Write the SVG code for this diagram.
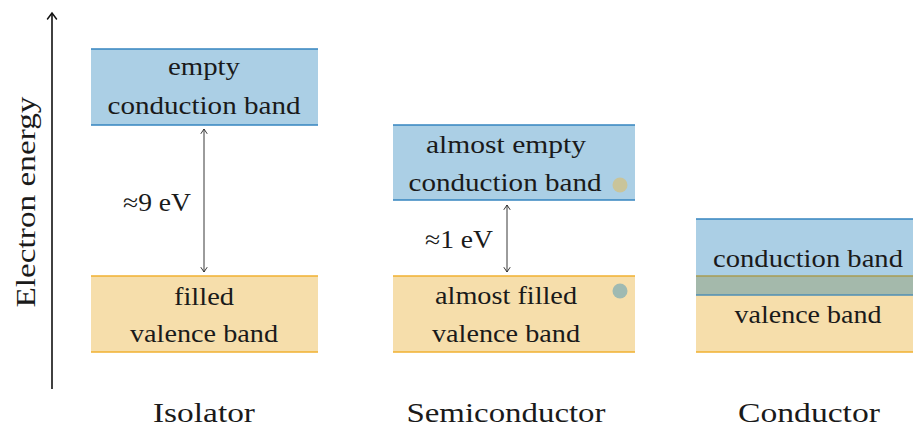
<svg xmlns="http://www.w3.org/2000/svg" width="913" height="428" viewBox="0 0 913 428" font-family="'Liberation Serif', 'DejaVu Serif', 'Noto Serif', Times, serif">
<defs>
<marker id="ah" viewBox="-6 -4 8 8" markerWidth="8" markerHeight="8" refX="0" refY="0" orient="auto-start-reverse" markerUnits="userSpaceOnUse">
<path d="M-4.5,-3 Q-1.5,-1 0,0 Q-1.5,1 -4.5,3" fill="none" stroke="#222" stroke-width="0.9" stroke-linecap="round"/>
</marker>
<marker id="ahbig" viewBox="-8 -6 10 12" markerWidth="10" markerHeight="12" refX="0" refY="0" orient="auto" markerUnits="userSpaceOnUse">
<path d="M-6,-4.5 Q-2,-1.5 0,0 Q-2,1.5 -6,4.5" fill="none" stroke="#111" stroke-width="1.5" stroke-linecap="round"/>
</marker>
</defs>
<style>
text{fill:#1a1a1a;text-anchor:middle}
.t{font-size:25px}
.lab{font-size:27px}
.cb{fill:#abcfe5}
.vb{fill:#f6deab}
.bl{stroke:#3585bf;stroke-width:1.3}
.ol{stroke:#f0b030;stroke-width:1.3}
.gap{stroke:#222;stroke-width:0.9;fill:none}
</style>
<rect width="913" height="428" fill="#fff"/>
<g id="axis">
<line x1="52" y1="389" x2="52" y2="13" stroke="#111" stroke-width="1.6" marker-end="url(#ahbig)"/>
<text class="lab" transform="translate(35,202) rotate(-90)" textLength="211" lengthAdjust="spacingAndGlyphs">Electron energy</text>
</g>
<g id="isolator">
<g id="iso-cond">
<rect class="cb" x="91" y="49" width="227" height="76"/>
<line class="bl" x1="91" y1="49" x2="318" y2="49"/>
<line class="bl" x1="91" y1="125" x2="318" y2="125"/>
<text class="t" x="204" y="75" textLength="72" lengthAdjust="spacingAndGlyphs">empty</text>
<text class="t" x="204" y="114" textLength="193" lengthAdjust="spacingAndGlyphs">conduction band</text>
</g>
<g id="iso-val">
<rect class="vb" x="91" y="276" width="227" height="76"/>
<line class="ol" x1="91" y1="276" x2="318" y2="276"/>
<line class="ol" x1="91" y1="352" x2="318" y2="352"/>
<text class="t" x="204" y="305" textLength="60" lengthAdjust="spacingAndGlyphs">filled</text>
<text class="t" x="204" y="342" textLength="148" lengthAdjust="spacingAndGlyphs">valence band</text>
</g>
<text class="lab" x="204" y="422" textLength="102" lengthAdjust="spacingAndGlyphs">Isolator</text>
</g>
<g id="semiconductor">
<g id="semi-cond">
<rect class="cb" x="393" y="125" width="242" height="75"/>
<line class="bl" x1="393" y1="125" x2="635" y2="125"/>
<line class="bl" x1="393" y1="200" x2="635" y2="200"/>
<text class="t" x="506" y="153" textLength="160" lengthAdjust="spacingAndGlyphs">almost empty</text>
<text class="t" x="505" y="191" textLength="193" lengthAdjust="spacingAndGlyphs">conduction band</text>
<circle cx="620" cy="185" r="7.5" fill="#c9c49a"/>
</g>
<g id="semi-val">
<rect class="vb" x="393" y="276" width="242" height="76"/>
<line class="ol" x1="393" y1="276" x2="635" y2="276"/>
<line class="ol" x1="393" y1="352" x2="635" y2="352"/>
<text class="t" x="506" y="304" textLength="142" lengthAdjust="spacingAndGlyphs">almost filled</text>
<text class="t" x="506" y="342" textLength="148" lengthAdjust="spacingAndGlyphs">valence band</text>
<circle cx="620" cy="291" r="7.5" fill="#9fbab2"/>
</g>
<text class="lab" x="506" y="422" textLength="199" lengthAdjust="spacingAndGlyphs">Semiconductor</text>
</g>
<g id="conductor">
<rect class="cb" x="696" y="219" width="217" height="57"/>
<rect class="vb" x="696" y="295" width="217" height="57"/>
<rect x="696" y="276" width="217" height="19" fill="#a4b9ab"/>
<line class="bl" x1="696" y1="219" x2="913" y2="219"/>
<line x1="696" y1="276" x2="913" y2="276" stroke="#a89c52" stroke-width="1.3"/>
<line x1="696" y1="295" x2="913" y2="295" stroke="#4f8fb5" stroke-width="1.3"/>
<line class="ol" x1="696" y1="352" x2="913" y2="352"/>
<text class="t" x="808" y="267" textLength="190" lengthAdjust="spacingAndGlyphs">conduction band</text>
<text class="t" x="808" y="323" textLength="147" lengthAdjust="spacingAndGlyphs">valence band</text>
<text class="lab" x="809" y="422" textLength="142" lengthAdjust="spacingAndGlyphs">Conductor</text>
</g>
<g id="connectors">
<line class="gap" x1="204" y1="129" x2="204" y2="272" marker-start="url(#ah)" marker-end="url(#ah)"/>
<text class="t" x="157" y="211" textLength="68" lengthAdjust="spacingAndGlyphs">≈9 eV</text>
<line class="gap" x1="507" y1="205" x2="507" y2="272" marker-start="url(#ah)" marker-end="url(#ah)"/>
<text class="t" x="459" y="248" textLength="68" lengthAdjust="spacingAndGlyphs">≈1 eV</text>
</g>
</svg>
